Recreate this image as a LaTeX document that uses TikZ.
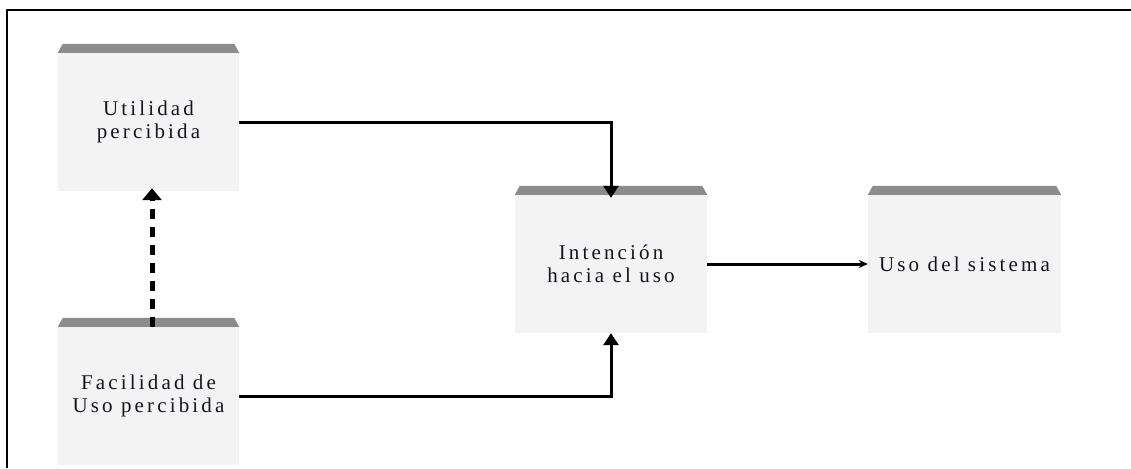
\documentclass[tikz,border=0pt]{standalone}
\usepackage{fontspec}
\setmainfont{Liberation Serif}[LetterSpace=15]
\usetikzlibrary{arrows.meta,calc}

\definecolor{boxfill}{HTML}{F3F3F3}
\definecolor{barfill}{HTML}{8C8C8C}
\definecolor{labeltext}{HTML}{14141E}

\tikzset{
  stagebox/.style={fill=boxfill, draw=none, inner sep=0pt, align=center,
    text=labeltext, minimum height=138pt,
    font=\fontsize{21}{23}\selectfont},
  link/.style={line width=3pt, -{Triangle[width=15pt,length=12pt]}},
  dashlink/.style={line width=5pt, dash pattern=on 10pt off 8pt,
    -{Triangle[width=19pt,length=12pt]}},
  frameline/.style={line width=2pt},
}

\begin{document}
\begin{tikzpicture}[x=1pt,y=-1pt]
  \useasboundingbox (0,0) rectangle (1131,468);
  \fill[white] (0,0) rectangle (1131,468);

  % open frame: only the top and left rules show
  \draw[frameline] (1131,10.5) -- (7,10.5) -- (7,468);

  % the four stages
  \node[stagebox, minimum width=181pt] (u) at (148.5,122) {Utilidad\\percibida};
  \node[stagebox, minimum width=181pt] (f) at (148.5,396) {Facilidad de\\Uso percibida};
  \node[stagebox, minimum width=192pt] (i) at (611,264) {Intención\\hacia el uso};
  \node[stagebox, minimum width=193pt] (s) at (964.5,264) {Uso del sistema};

  % grey bevelled caps on top of each stage
  \foreach \n in {u,f,i,s}{
    \fill[barfill] (\n.north west) -- ($(\n.north west)+(5,-9)$)
      -- ($(\n.north east)+(-5,-9)$) -- (\n.north east) -- cycle;
  }

  % connectors
  \draw[link, shorten >=-3pt] (u.east) -| (i.north);
  \draw[link] (f.east) -| (i.south);
  \draw[line width=3pt, -{Stealth[width=8pt,length=9pt]}] (i.east) -- (s.west);
  \draw[dashlink, shorten >=-3pt] ([xshift=3.5pt]f.north) -- ([xshift=3.5pt]u.south);
\end{tikzpicture}
\end{document}
